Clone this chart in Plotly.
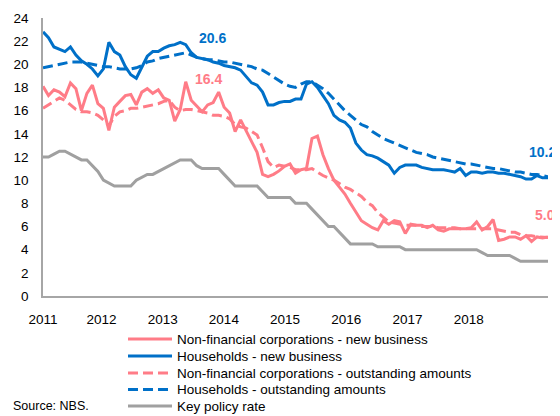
import plotly.graph_objects as go
import pandas as pd

# monthly observations, Jan 2011 - Sep 2018
months = pd.date_range("2011-01-01", "2018-09-01", freq="MS").strftime("%b %Y").tolist()
years = ["2011", "2012", "2013", "2014", "2015", "2016", "2017", "2018"]

nfc_new = [18.1, 17.3, 17.8, 17.6, 17.2, 18.4, 17.9, 16.0, 17.5, 18.2, 16.6, 16.2,
           14.3, 16.3, 16.8, 17.3, 17.4, 16.5, 17.6, 17.9, 17.5, 17.8, 17.1, 16.9,
           15.1, 16.1, 18.5, 16.9, 16.4, 15.9, 16.5, 16.7, 17.6, 16.3, 15.8, 14.2,
           15.2, 14.3, 13.3, 12.4, 10.5, 10.3, 10.5, 10.8, 11.2, 11.4, 10.6, 10.9,
           11.0, 13.6, 13.8, 12.2, 11.0, 10.0, 9.4, 8.8, 8.0, 7.3, 6.5, 6.2,
           5.9, 5.7, 6.5, 6.2, 6.5, 6.4, 5.4, 6.2, 6.1, 6.1, 5.9, 6.1,
           5.7, 5.6, 5.8, 5.8, 5.8, 5.8, 5.9, 6.4, 5.7, 6.0, 6.6, 4.8,
           4.9, 5.1, 5.1, 4.9, 5.2, 4.7, 5.1, 5.0, 5.1]

hh_new = [22.8, 22.3, 21.5, 21.3, 21.1, 21.5, 20.8, 20.3, 20.0, 19.6, 19.0, 19.6,
          21.9, 21.1, 20.8, 19.8, 19.1, 18.8, 19.8, 20.7, 21.1, 21.1, 21.4, 21.6,
          21.7, 21.9, 21.7, 21.0, 20.6, 20.5, 20.4, 20.2, 20.1, 19.9, 19.8, 19.7,
          19.5, 18.9, 18.4, 18.2, 17.6, 16.5, 16.5, 16.7, 16.8, 16.8, 17.0, 17.0,
          18.3, 18.5, 18.0, 17.3, 16.6, 15.6, 15.2, 15.0, 14.5, 13.2, 12.6, 12.2,
          12.1, 11.9, 11.6, 11.3, 10.6, 11.1, 11.3, 11.3, 11.3, 11.1, 11.0, 10.9,
          10.9, 10.9, 10.8, 10.7, 11.0, 10.4, 10.7, 10.7, 10.6, 10.7, 10.7, 10.6,
          10.6, 10.5, 10.4, 10.3, 10.1, 10.1, 10.4, 10.2, 10.2]

nfc_out = [16.2, 16.5, 16.8, 17.1, 16.9, 16.5, 16.1, 15.9, 15.9, 15.8, 15.6, 15.2,
           14.7, 15.5, 15.9, 16.0, 16.2, 16.2, 16.3, 16.4, 16.5, 16.6, 16.8, 16.9,
           16.3, 16.0, 16.1, 16.1, 16.0, 15.9, 15.8, 15.6, 15.6, 15.5, 15.3, 14.8,
           14.6, 14.5, 14.2, 13.9, 12.8, 11.6, 11.1, 11.3, 11.2, 11.1, 10.9, 10.9,
           10.9, 11.0, 10.7, 10.4, 10.2, 10.0, 9.7, 9.4, 9.2, 8.9, 8.6, 8.1,
           7.8, 7.2, 6.8, 6.4, 6.3, 6.2, 6.1, 6.1, 6.1, 6.0, 6.0, 6.0,
           5.9, 5.9, 5.9, 5.9, 5.8, 5.8, 5.8, 5.8, 5.8, 5.8, 5.8, 5.7,
           5.6, 5.5, 5.5, 5.3, 5.2, 5.2, 5.1, 5.1, 5.05]

hh_out = [19.7, 19.8, 19.9, 20.0, 20.1, 20.2, 20.2, 20.2, 20.1, 20.0, 19.9, 19.8,
          19.8, 19.7, 19.6, 19.6, 19.6, 19.7, 19.9, 20.2, 20.3, 20.5, 20.6, 20.7,
          20.8, 20.9, 21.0, 20.8, 20.6, 20.5, 20.4, 20.4, 20.3, 20.2, 20.2, 20.1,
          20.0, 19.9, 19.8, 19.6, 19.5, 19.2, 18.9, 18.6, 18.3, 18.1, 18.0, 18.3,
          18.5, 18.5, 18.2, 17.9, 17.5, 17.0, 16.5, 16.0, 15.6, 15.2, 14.8, 14.6,
          14.2, 13.9, 13.6, 13.4, 13.2, 13.0, 12.8, 12.6, 12.4, 12.3, 12.2, 12.0,
          11.9, 11.8, 11.7, 11.6, 11.5, 11.4, 11.4, 11.3, 11.2, 11.1, 11.0, 11.0,
          10.9, 10.8, 10.7, 10.7, 10.6, 10.5, 10.5, 10.4, 10.3]

policy_rate = [12.0, 12.0, 12.25, 12.5, 12.5, 12.25, 12.0, 11.75, 11.75, 11.25, 10.75, 10.0,
               9.75, 9.5, 9.5, 9.5, 9.5, 10.0, 10.25, 10.5, 10.5, 10.75, 11.0, 11.25,
               11.5, 11.75, 11.75, 11.75, 11.25, 11.0, 11.0, 11.0, 11.0, 10.5, 10.0, 9.5,
               9.5, 9.5, 9.5, 9.5, 9.0, 8.5, 8.5, 8.5, 8.5, 8.5, 8.0, 8.0,
               8.0, 7.5, 7.0, 6.5, 6.0, 6.0, 5.5, 5.0, 4.5, 4.5, 4.5, 4.5,
               4.5, 4.25, 4.25, 4.25, 4.25, 4.25, 4.0, 4.0, 4.0, 4.0, 4.0, 4.0,
               4.0, 4.0, 4.0, 4.0, 4.0, 4.0, 4.0, 4.0, 3.75, 3.5, 3.5, 3.5,
               3.5, 3.5, 3.25, 3.0, 3.0, 3.0, 3.0, 3.0, 3.0]

PINK = "#FF7C87"
BLUE = "#0070C8"
GREY = "#A0A0A0"
FONT = "Arial, Liberation Sans, sans-serif"
DASH = "10px,5px"

# page has an 8px body margin, so the figure is drawn 8px smaller and inset
W, H = 552, 408
ML, MR, MT, MB = 35, 12, 10, 120
PW, PH = W - ML - MR, H - MT - MB


def px_x(px):
    # page pixel -> paper x
    return (px - 8 - ML) / PW


def px_y(py):
    # page pixel -> paper y
    return (H - MB - (py - 8)) / PH


x = list(range(len(months)))

series = [
    ("Non-financial corporations - new business", nfc_new, PINK, "solid"),
    ("Households - new business", hh_new, BLUE, "solid"),
    ("Non-financial corporations - outstanding amounts", nfc_out, PINK, DASH),
    ("Households - outstanding amounts", hh_out, BLUE, DASH),
    ("Key policy rate", policy_rate, GREY, "solid"),
]

fig = go.Figure()
# draw order: grey and pink under blue
for i in [4, 2, 0, 3, 1]:
    name, vals, color, dash = series[i]
    fig.add_trace(go.Scatter(
        x=x, y=vals, name=name, mode="lines", text=months,
        line=dict(color=color, width=3, dash=dash),
        hovertemplate="%{text}: %{y}<extra>" + name + "</extra>",
        showlegend=False,
    ))

# legend drawn by hand so the rows sit as tight as in the source
row_y = [339, 356, 373, 389.5, 406]
for (name, vals, color, dash), ry in zip(series, row_y):
    fig.add_shape(type="line", xref="paper", yref="paper",
                  x0=px_x(128), x1=px_x(172), y0=px_y(ry), y1=px_y(ry),
                  line=dict(color=color, width=3, dash=dash))
    fig.add_annotation(xref="paper", yref="paper", x=px_x(175), y=px_y(ry),
                       text=name, showarrow=False, xanchor="left", yanchor="middle",
                       font=dict(family=FONT, size=13.5, color="black"))

# value call-outs (x, y, text, colour, x shift in px)
labels = [
    (30.8, 22.3, "20.6", BLUE, 0),
    (30.1, 18.7, "16.4", PINK, 0),
    (91.0, 12.4, "10.2", BLUE, 0),
    (92.0, 7.0, "5.05", PINK, 0),
]
for lx, ly, txt, col, shift in labels:
    fig.add_annotation(x=lx, y=ly, text="<b>" + txt + "</b>", showarrow=False,
                       xanchor="center" if txt != "5.05" else "left", xshift=shift if txt != "5.05" else -15,
                       font=dict(family=FONT, size=14, color=col))

fig.add_annotation(xref="paper", yref="paper", x=px_x(11), y=px_y(406), text="Source: NBS.",
                   showarrow=False, xanchor="left", yanchor="middle",
                   font=dict(family=FONT, size=12.5, color="black"))

fig.update_layout(
    width=W, height=H,
    margin=dict(l=ML, r=MR, t=MT, b=MB, autoexpand=False),
    plot_bgcolor="white", paper_bgcolor="white",
    font=dict(family=FONT, size=13.5, color="black"),
    showlegend=False,
)
fig.update_xaxes(range=[0, len(months) - 1],
                 tickvals=[max(0, i * 11.15 - 0.5) for i in range(len(years))], ticktext=years,
                 showline=True, linecolor="#A6A6A6", linewidth=1.5,
                 showgrid=False, zeroline=False, ticks="", ticklabelstandoff=10)
fig.update_yaxes(range=[0, 24], dtick=2,
                 showline=True, linecolor="#A6A6A6", linewidth=1.5,
                 showgrid=False, zeroline=False, ticks="", ticklabelstandoff=10)

fig.write_html("out.html")
